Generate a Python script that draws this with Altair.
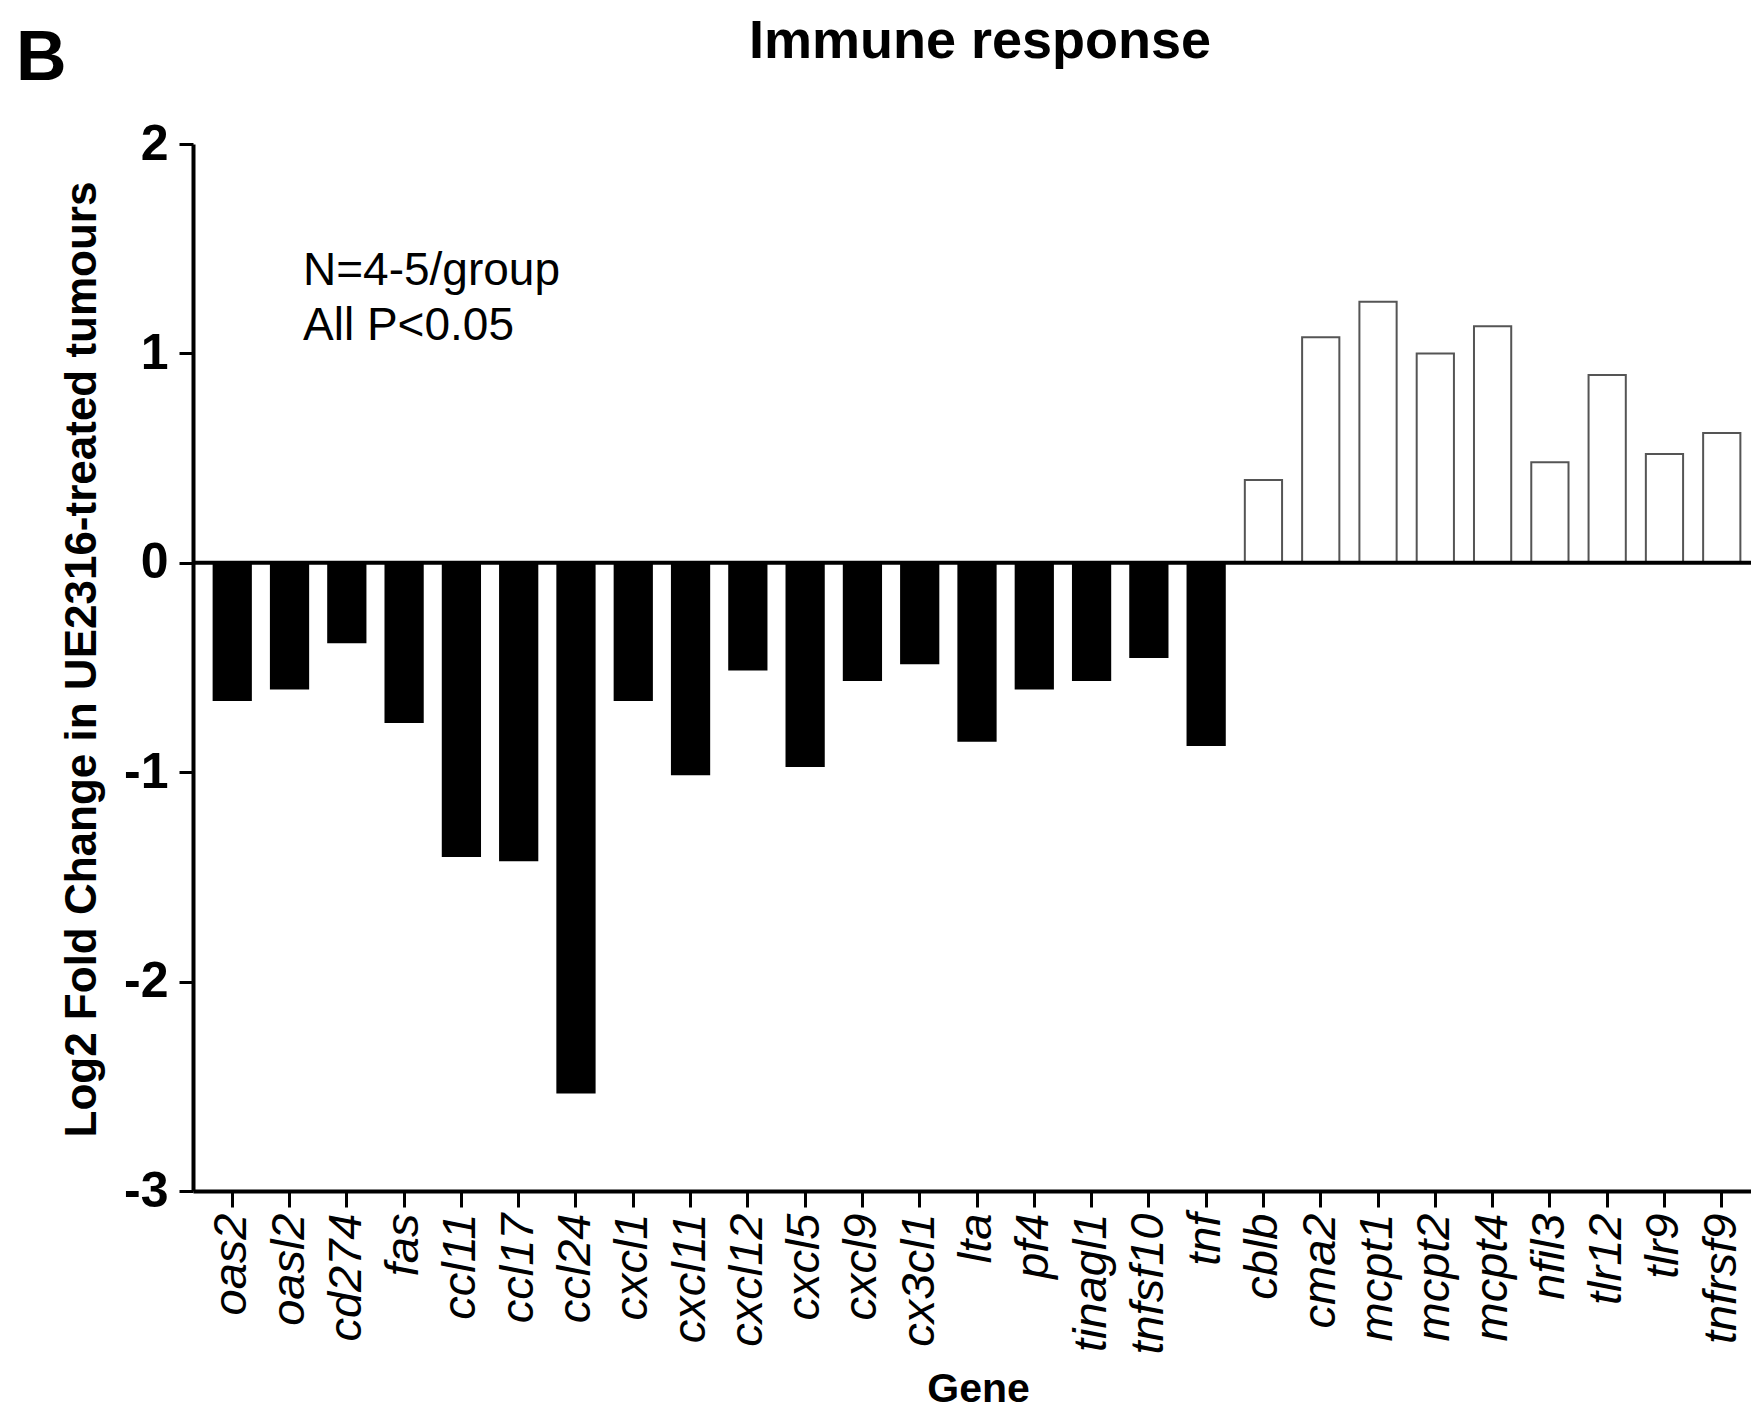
import altair as alt
import pandas as pd

genes = ["oas2", "oasl2", "cd274", "fas", "ccl11", "ccl17", "ccl24", "cxcl1", "cxcl11",
         "cxcl12", "cxcl5", "cxcl9", "cx3cl1", "lta", "pf4", "tinagl1", "tnfsf10", "tnf",
         "cblb", "cma2", "mcpt1", "mcpt2", "mcpt4", "nfil3", "tlr12", "tlr9", "tnfrsf9"]
values = [-0.655, -0.60, -0.38, -0.76, -1.40, -1.42, -2.53, -0.655, -1.01,
          -0.51, -0.97, -0.56, -0.48, -0.85, -0.60, -0.56, -0.45, -0.87,
          0.395, 1.077, 1.247, 1.0, 1.13, 0.48, 0.897, 0.52, 0.62]
y_ticks = [-3, -2, -1, 0, 1, 2]

title_text = "Immune response"
panel_text = "B"
note_lines = ["N=4-5/group", "All P<0.05"]
x_title = "Gene"
y_title = "Log2 Fold Change in UE2316-treated tumours"

FONT = "Liberation Sans, Arial, Helvetica, sans-serif"

df = pd.DataFrame({"gene": genes, "value": values})

W, H = 1558, 1047

bars = alt.Chart(df).mark_bar(strokeWidth=2).encode(
    x=alt.X("gene:N", sort=genes, title=x_title,
            scale=alt.Scale(paddingInner=0.35, paddingOuter=0.36, range=[0, 1568]),
            axis=alt.Axis(labelAngle=270, labelFontStyle="italic", labelFontSize=47,
                          labelFont=FONT, labelColor="black", labelPadding=6,
                          tickSize=16, tickWidth=3, tickColor="black",
                          domainWidth=4, domainColor="black", grid=False,
                          titleFont=FONT, titleFontSize=41, titleFontWeight="bold",
                          titleColor="black", titleX=785, titleY=210,
                          titleBaseline="alphabetic", titleAlign="center")),
    y=alt.Y("value:Q", title=y_title,
            scale=alt.Scale(domain=[-3, 2], nice=False, zero=False),
            axis=alt.Axis(values=y_ticks, labelExpr="'' + datum.value",
                          labelFont=FONT, labelFontSize=50, labelFontWeight="bold",
                          labelColor="black", labelPadding=11,
                          tickSize=14, tickWidth=3, tickColor="black",
                          domainWidth=4, domainColor="black", grid=False,
                          titleFont=FONT, titleFontSize=44, titleFontWeight="bold",
                          titleColor="black", titleAngle=270, titleX=-98, titleY=515,
                          titleBaseline="alphabetic", titleAlign="center")),
    fill=alt.condition("datum.value < 0", alt.value("black"), alt.value("white")),
    stroke=alt.condition("datum.value < 0", alt.value("black"), alt.value("#555555")),
)

zero = alt.Chart(pd.DataFrame({"z": [0]})).mark_rule(color="black", strokeWidth=4).encode(
    y=alt.Y("z:Q")
)

def label(txt, x, y, size, weight="normal", align="left", baseline="alphabetic"):
    return alt.Chart(pd.DataFrame({"t": [txt]})).mark_text(
        font=FONT, fontSize=size, fontWeight=weight, align=align, baseline=baseline,
        color="black"
    ).encode(text="t:N", x=alt.value(x), y=alt.value(y))

title = label(title_text, 787, -86, 54, "bold", "center")
panel = label(panel_text, -177, -64, 70, "bold", "left")
note1 = label(note_lines[0], 110, 141, 46)
note2 = label(note_lines[1], 110, 196, 46)

chart = alt.layer(bars, zero, title, panel, note1, note2).properties(
    width=W, height=H,
    background="white",
    autosize=alt.AutoSizeParams(type="none"),
    padding={"left": 185, "top": 136, "right": 0, "bottom": 219},
).configure_view(strokeWidth=0, stroke="transparent")

chart.save("out.html", embed_options={"renderer": "svg", "actions": False})
